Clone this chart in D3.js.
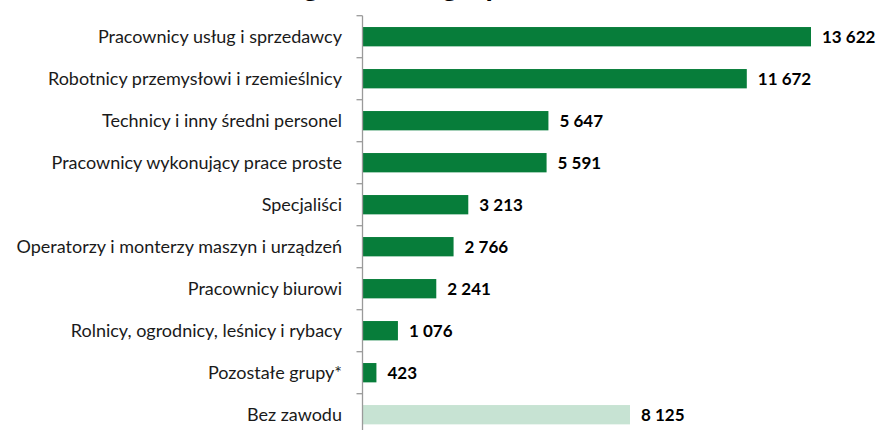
<!DOCTYPE html>
<html><head><meta charset="utf-8">
<script src="https://cdn.jsdelivr.net/npm/d3@7"></script>
<style>
html,body{margin:0;padding:0;background:#fff;}
svg{display:block;}
text{font-family:Lato,"Open Sans",sans-serif;}
</style></head>
<body>
<svg id="chart" width="877" height="430"></svg>
<script>
const titleText = "Bezrobotni według wielkich grup zawodów";
const categories = [
  "Pracownicy usług i sprzedawcy",
  "Robotnicy przemysłowi i rzemieślnicy",
  "Technicy i inny średni personel",
  "Pracownicy wykonujący prace proste",
  "Specjaliści",
  "Operatorzy i monterzy maszyn i urządzeń",
  "Pracownicy biurowi",
  "Rolnicy, ogrodnicy, leśnicy i rybacy",
  "Pozostałe grupy*",
  "Bez zawodu"
];
const values = [13622, 11672, 5647, 5591, 3213, 2766, 2241, 1076, 423, 8125];
const highlight = [false,false,false,false,false,false,false,false,false,true];

const svg = d3.select("#chart");
const axisX = 362.5, plotTop = 15.7, band = 42;

const x = d3.scaleLinear().domain([0, 13622]).range([axisX, 811]);
const y = d3.scaleBand().domain(categories).range([plotTop, plotTop + band*categories.length]).paddingInner(0.54).paddingOuter(0.27);

const fmt = v => d3.format(",")(v).replace(/,/g, " ");

// title (cropped above the view, as in the reference: only descenders show)
const title = svg.append("text").attr("x", 0).attr("y", -4)
  .attr("font-size", 24).attr("font-weight","bold").attr("fill","#000").text(titleText);
(function fitTitle(){
  const n = title.node();
  const i1 = titleText.indexOf("g "), i2 = titleText.indexOf("grup");
  const gap = n.getStartPositionOfChar(i2).x - n.getStartPositionOfChar(i1).x;
  const fs = 24 * 139 / gap;
  title.attr("font-size", fs);
  const sx = n.getStartPositionOfChar(i2).x;
  title.attr("x", 442 - sx);
})();

// bars
svg.selectAll("rect.bar").data(categories).join("rect")
  .attr("class","bar")
  .attr("x", x(0)).attr("y", d => y(d))
  .attr("width", (d,i) => x(values[i]) - x(0))
  .attr("height", y.bandwidth())
  .attr("fill", (d,i) => highlight[i] ? "#c7e3d3" : "#077d3a");

// axis line and ticks at band boundaries
const bounds = d3.range(categories.length + 1).map(i => plotTop + i*band);
svg.append("line").attr("x1", axisX).attr("x2", axisX).attr("y1", plotTop).attr("y2", plotTop + band*categories.length)
  .attr("stroke","#9a9a9a").attr("stroke-width",1.3);
svg.selectAll("line.tick").data(bounds).join("line").attr("class","tick")
  .attr("x1", axisX - 6).attr("x2", axisX).attr("y1", d=>d).attr("y2", d=>d)
  .attr("stroke","#9a9a9a").attr("stroke-width",1.3);

// category labels
svg.selectAll("text.cat").data(categories).join("text").attr("class","cat")
  .attr("x", 342).attr("y", d => y(d) + y.bandwidth()/2).attr("dy","0.36em")
  .attr("text-anchor","end").attr("font-size",18).attr("fill","#1a1a1a").text(d=>d);

// value labels
svg.selectAll("text.val").data(categories).join("text").attr("class","val")
  .attr("x", (d,i) => x(values[i]) + 11).attr("y", d => y(d) + y.bandwidth()/2).attr("dy","0.36em")
  .attr("font-size",17).attr("font-weight","bold").attr("fill","#000").text((d,i)=>fmt(values[i]));
</script>
</body></html>
